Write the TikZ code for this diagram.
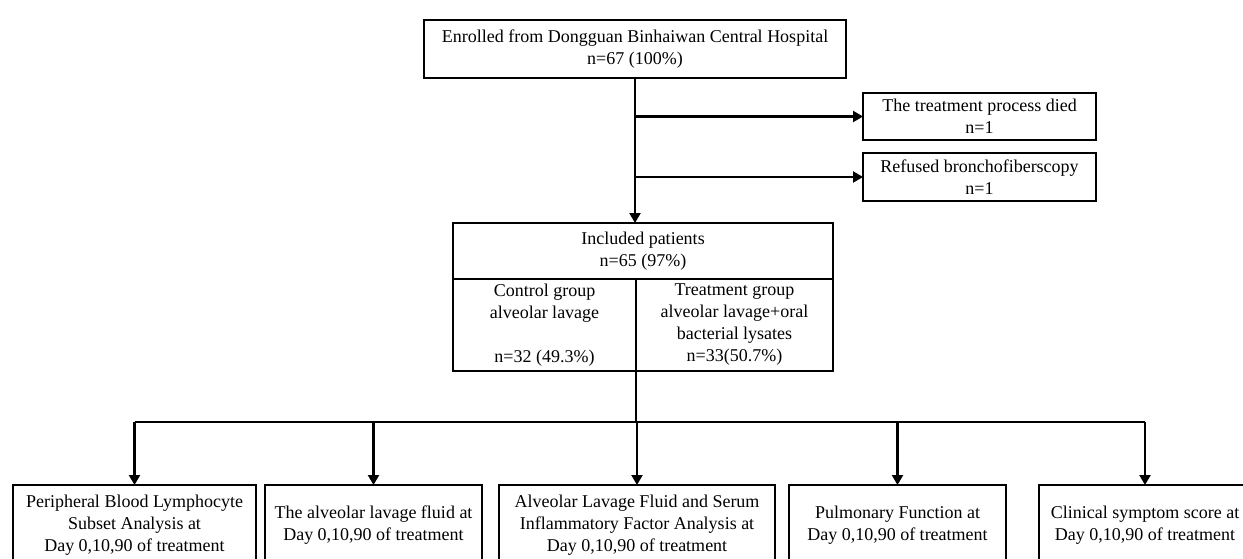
\documentclass[tikz,border=0pt]{standalone}
\usepackage{fontspec}
\setmainfont{Liberation Serif}
\usetikzlibrary{arrows.meta}
\begin{document}
\begin{tikzpicture}[x=1pt,y=-1pt,line width=2.2pt,
	box/.style={draw,line width=2.6pt,inner sep=0pt,outer sep=0pt,align=center,font=\fontsize{18}{22}\selectfont},
	flow/.style={-{Triangle[length=10pt,width=11pt]}}]
	\useasboundingbox (0,0) rectangle (1243,558);
	\node (enrol)	at (635,49)	[box,minimum width=422pt,minimum height=58pt]	{Enrolled from Dongguan Binhaiwan Central Hospital\\n=67 (100\%)};
	\node (died)	at (979.5,116.5)	[box,minimum width=233pt,minimum height=47pt]	{The treatment process died\\n=1};
	\node (refused)	at (979.5,177)	[box,minimum width=233pt,minimum height=48pt]	{Refused bronchofiberscopy\\n=1};
	\node (incl)	at (643,251)	[box,minimum width=380pt,minimum height=56pt]	{Included patients\\n=65 (97\%)};
	\node (control)	at (544.5,325)	[box,minimum width=183pt,minimum height=92pt]	{Control group\\alveolar lavage\\[22pt]n=32 (49.3\%)};
	\node (treat)	at (734.5,325)	[box,minimum width=197pt,minimum height=92pt]	{Treatment group\\alveolar lavage+oral\\bacterial lysates\\n=33(50.7\%)};
	\node (b1)	at (134.5,525)	[box,minimum width=243pt,minimum height=80pt]	{Peripheral Blood Lymphocyte\\Subset Analysis at\\Day 0,10,90 of treatment};
	\node (b2)	at (373.5,525)	[box,minimum width=217pt,minimum height=80pt]	{The alveolar lavage fluid at\\Day 0,10,90 of treatment};
	\node (b3)	at (637,525)	[box,minimum width=276pt,minimum height=80pt]	{Alveolar Lavage Fluid and Serum\\Inflammatory Factor Analysis at\\Day 0,10,90 of treatment};
	\node (b4)	at (897.5,525)	[box,minimum width=217pt,minimum height=80pt]	{Pulmonary Function at\\Day 0,10,90 of treatment};
	\node (b5)	at (1145,525)	[box,minimum width=212pt,minimum height=80pt]	{Clinical symptom score at\\Day 0,10,90 of treatment};
	\coordinate (split) at (636,422);
	\draw[flow] (enrol.south) -- (enrol.south |- incl.north);
	\draw[flow] (enrol.south |- died.west) -- (died.west);
	\draw[flow] (enrol.south |- refused.west) -- (refused.west);
	\draw (split |- control.south) -- (split);
	\draw (b1.north |- split) -- (b5.north |- split);
	\draw[flow] (b1.north |- split) -- (b1.north);
	\draw[flow] (b2.north |- split) -- (b2.north);
	\draw[flow] (b3.north |- split) -- (b3.north);
	\draw[flow] (b4.north |- split) -- (b4.north);
	\draw[flow] (b5.north |- split) -- (b5.north);
\end{tikzpicture}
\end{document}
